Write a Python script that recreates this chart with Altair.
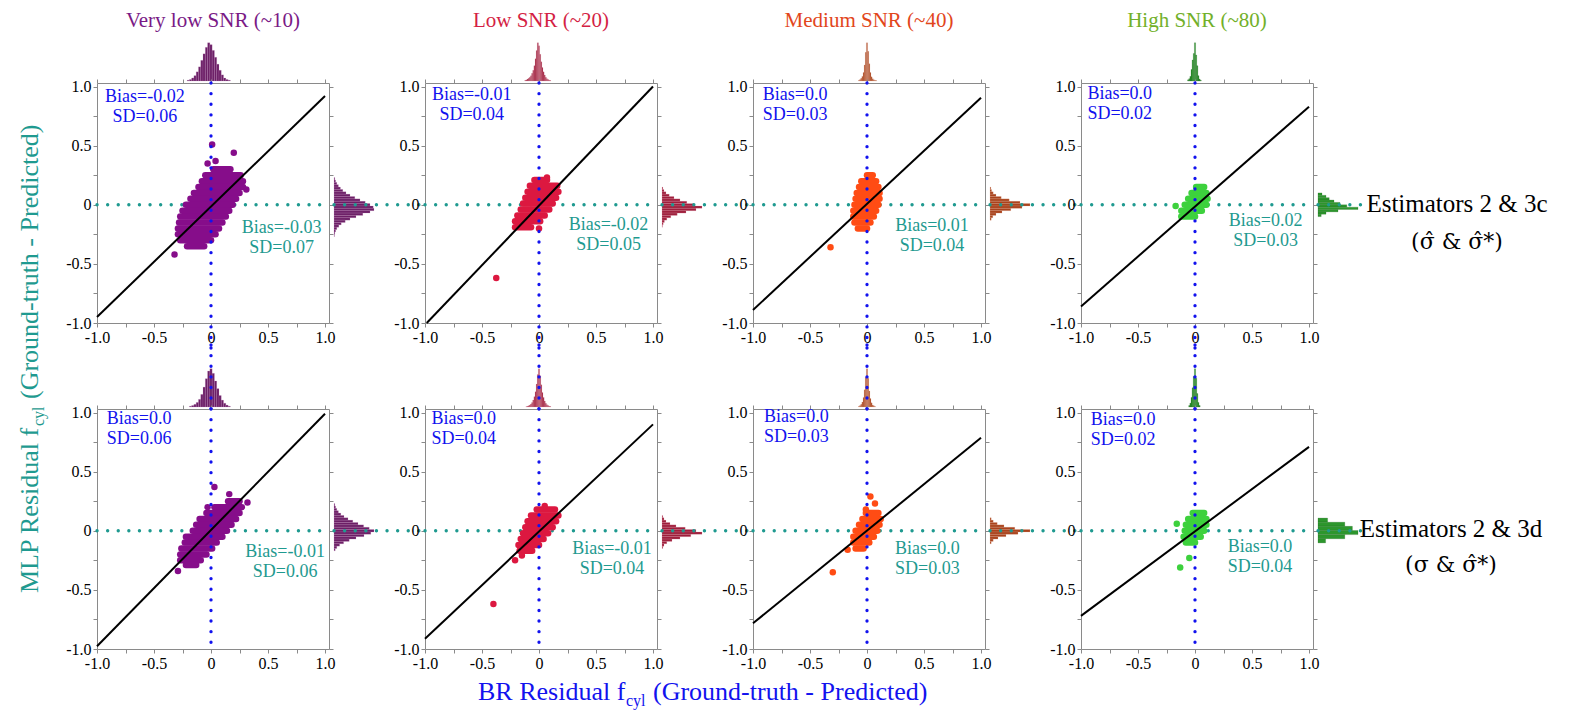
import altair as alt
import pandas as pd

FONT = "Liberation Serif"
TEAL = "#1f9a90"
BLUE = "#1212ee"

# ---------------- layout constants ----------------
W, H, TH, RW = 232, 240, 44, 46
COLSP, PANEL_GAP, ROWSP, ROW_GAP = 5, 35, 2, 36
XD, YD = [-1, 1.035], [-1, 1.03]
TICKS = [-1, -0.75, -0.5, -0.25, 0, 0.25, 0.5, 0.75, 1]

# ---------------- texts / colours ----------------
col_titles = ["Very low SNR (~10)", "Low SNR (~20)", "Medium SNR (~40)", "High SNR (~80)"]
title_colors = ["#7a1a86", "#d41f45", "#e2461b", "#72b02a"]
point_colors = ["#860d8a", "#dc1840", "#ff4c14", "#3dd13d"]
hist_colors = ["#6c1f66", "#9e1f3c", "#a9431d", "#2d962d"]
hist_edges = ["#c590bf", "#e09cac", "#e4ad96", "#175a17"]
row_label_1 = ["Estimators 2 & 3c", "Estimators 2 & 3d"]
row_label_2 = ["(\u03c3\u0302 & \u03c3\u0302*)", "(\u03c3 & \u03c3\u0302*)"]

# panels order: row0 col0..3, row1 col0..3
blue_text = ["Bias=-0.02\nSD=0.06", "Bias=-0.01\nSD=0.04", "Bias=0.0\nSD=0.03", "Bias=0.0\nSD=0.02",
             "Bias=0.0\nSD=0.06", "Bias=0.0\nSD=0.04", "Bias=0.0\nSD=0.03", "Bias=0.0\nSD=0.02"]
teal_text = ["Bias=-0.03\nSD=0.07", "Bias=-0.02\nSD=0.05", "Bias=0.01\nSD=0.04", "Bias=0.02\nSD=0.03",
             "Bias=-0.01\nSD=0.06", "Bias=-0.01\nSD=0.04", "Bias=0.0\nSD=0.03", "Bias=0.0\nSD=0.04"]

# ---------------- scatter clouds (dense core: per-row x extents) ----------------
cloud_y = [
    [0.30, 0.25, 0.20, 0.15, 0.10, 0.05, 0.00, -0.05, -0.10, -0.15, -0.20, -0.25, -0.30, -0.35],
    [0.21, 0.16, 0.11, 0.06, 0.01, -0.04, -0.09, -0.14, -0.19],
    [0.25, 0.20, 0.15, 0.10, 0.05, 0.00, -0.05, -0.10, -0.15, -0.20],
    [0.15, 0.10, 0.05, 0.00, -0.05, -0.10],
    [0.25, 0.20, 0.15, 0.10, 0.05, 0.00, -0.05, -0.10, -0.15, -0.20, -0.25, -0.29],
    [0.18, 0.13, 0.08, 0.03, -0.02, -0.07, -0.12, -0.17],
    [0.15, 0.10, 0.05, 0.00, -0.05, -0.10, -0.15],
    [0.15, 0.10, 0.05, 0.00, -0.05, -0.10],
]
cloud_xl = [
    [0.02, -0.05, -0.08, -0.11, -0.15, -0.18, -0.22, -0.25, -0.27, -0.28, -0.29, -0.29, -0.27, -0.21],
    [-0.04, -0.08, -0.10, -0.12, -0.14, -0.16, -0.19, -0.21, -0.21],
    [0.00, -0.05, -0.07, -0.09, -0.10, -0.11, -0.12, -0.12, -0.11, -0.08],
    [0.01, -0.03, -0.06, -0.09, -0.12, -0.12],
    [0.15, 0.03, -0.04, -0.10, -0.13, -0.16, -0.20, -0.23, -0.26, -0.27, -0.27, -0.22],
    [-0.02, -0.07, -0.10, -0.12, -0.14, -0.16, -0.18, -0.17],
    [-0.01, -0.04, -0.07, -0.10, -0.12, -0.12, -0.10],
    [-0.02, -0.06, -0.08, -0.09, -0.10, -0.08],
]
cloud_xr = [
    [0.17, 0.26, 0.28, 0.28, 0.25, 0.22, 0.19, 0.16, 0.13, 0.10, 0.07, 0.04, 0.00, -0.06],
    [0.07, 0.16, 0.17, 0.15, 0.12, 0.09, 0.05, 0.01, -0.07],
    [0.05, 0.08, 0.10, 0.11, 0.11, 0.10, 0.08, 0.06, 0.03, 0.00],
    [0.08, 0.10, 0.11, 0.10, 0.06, 0.00],
    [0.25, 0.27, 0.25, 0.22, 0.18, 0.14, 0.10, 0.05, 0.01, -0.04, -0.09, -0.13],
    [0.14, 0.17, 0.15, 0.12, 0.08, 0.04, 0.00, -0.06],
    [0.10, 0.12, 0.11, 0.09, 0.06, 0.02, -0.03],
    [0.08, 0.10, 0.10, 0.08, 0.05, 0.00],
]
# isolated points
out_x = [
    [0.01, -0.03, 0.04, 0.20, 0.31, -0.32],
    [-0.375, 0.00, 0.07],
    [-0.32],
    [-0.17],
    [0.03, 0.16, -0.03, -0.22, -0.29, 0.32],
    [0.05, -0.21, -0.15, -0.40],
    [0.03, 0.07, -0.17, -0.30, -0.01],
    [-0.16, -0.05, -0.13],
]
out_y = [
    [0.51, 0.35, 0.37, 0.44, 0.13, -0.42],
    [-0.62, -0.20, 0.23],
    [-0.36],
    [-0.01],
    [0.37, 0.31, 0.20, -0.05, -0.34, 0.24],
    [0.21, -0.25, -0.21, -0.62],
    [0.29, 0.23, -0.16, -0.35, 0.18],
    [0.06, -0.23, -0.31],
]
# regression line end points
fit_x0 = [-1.0, -0.985, -1.0, -1.0, -1.0, -1.0, -1.0, -1.0]
fit_y0 = [-0.95, -1.0, -0.89, -0.86, -0.977, -0.913, -0.783, -0.72]
fit_x1 = [1.0, 1.0, 1.0, 1.0, 1.0, 1.0, 1.0, 1.0]
fit_y1 = [0.92, 1.0, 0.906, 0.83, 0.99, 0.90, 0.786, 0.71]

# ---------------- marginal histograms ----------------
top_binw = [0.02, 0.01, 0.01, 0.01, 0.02, 0.01, 0.01, 0.01]
top_centers = [
    [-0.20, -0.18, -0.16, -0.14, -0.12, -0.10, -0.08, -0.06, -0.04, -0.02, 0.00, 0.02, 0.04, 0.06, 0.08, 0.10, 0.12, 0.14, 0.16],
    [-0.12, -0.11, -0.10, -0.09, -0.08, -0.07, -0.06, -0.05, -0.04, -0.03, -0.02, -0.01, 0.00, 0.01, 0.02, 0.03, 0.04, 0.05, 0.06, 0.07, 0.08, 0.09, 0.10],
    [-0.07, -0.06, -0.05, -0.04, -0.03, -0.02, -0.01, 0.00, 0.01, 0.02, 0.03, 0.04, 0.05, 0.06, 0.07, 0.08],
    [-0.06, -0.05, -0.04, -0.03, -0.02, -0.01, 0.00, 0.01, 0.02, 0.03, 0.04, 0.05],
    [-0.18, -0.16, -0.14, -0.12, -0.10, -0.08, -0.06, -0.04, -0.02, 0.00, 0.02, 0.04, 0.06, 0.08, 0.10, 0.12, 0.14, 0.16],
    [-0.11, -0.10, -0.09, -0.08, -0.07, -0.06, -0.05, -0.04, -0.03, -0.02, -0.01, 0.00, 0.01, 0.02, 0.03, 0.04, 0.05, 0.06, 0.07, 0.08, 0.09, 0.10],
    [-0.07, -0.06, -0.05, -0.04, -0.03, -0.02, -0.01, 0.00, 0.01, 0.02, 0.03, 0.04, 0.05, 0.06, 0.07],
    [-0.05, -0.04, -0.03, -0.02, -0.01, 0.00, 0.01, 0.02, 0.03, 0.04],
]
top_counts = [
    [2, 4, 8, 14, 24, 37, 54, 71, 88, 100, 95, 80, 62, 44, 28, 16, 8, 4, 2],
    [2, 3, 5, 7, 10, 14, 20, 28, 40, 58, 80, 100, 92, 70, 50, 35, 24, 16, 10, 6, 4, 2, 1],
    [2, 4, 7, 12, 22, 42, 75, 100, 78, 45, 22, 11, 6, 3, 2, 1],
    [3, 6, 12, 30, 55, 72, 100, 68, 40, 14, 5, 2],
    [2, 4, 7, 12, 20, 33, 52, 74, 94, 100, 88, 68, 48, 30, 18, 10, 5, 2],
    [1, 2, 3, 5, 8, 12, 18, 27, 40, 60, 85, 100, 82, 58, 38, 25, 16, 10, 6, 4, 2, 1],
    [2, 4, 7, 13, 25, 45, 78, 100, 75, 42, 22, 11, 5, 3, 1],
    [4, 10, 25, 50, 80, 100, 75, 35, 12, 4],
]
right_binw = [0.02, 0.02, 0.02, 0.02, 0.02, 0.02, 0.02, 0.035]
right_centers = [
    [0.22, 0.20, 0.18, 0.16, 0.14, 0.12, 0.10, 0.08, 0.06, 0.04, 0.02, 0.00, -0.02, -0.04, -0.06, -0.08, -0.10, -0.12, -0.14, -0.16, -0.18, -0.20, -0.22, -0.24, -0.26],
    [0.14, 0.12, 0.10, 0.08, 0.06, 0.04, 0.02, 0.00, -0.02, -0.04, -0.06, -0.08, -0.10, -0.12, -0.14, -0.16, -0.18],
    [0.14, 0.12, 0.10, 0.08, 0.06, 0.04, 0.02, 0.00, -0.02, -0.04, -0.06, -0.08, -0.10, -0.12],
    [0.09, 0.07, 0.05, 0.03, 0.01, -0.01, -0.03, -0.05, -0.07, -0.09],
    [0.22, 0.20, 0.18, 0.16, 0.14, 0.12, 0.10, 0.08, 0.06, 0.04, 0.02, 0.00, -0.02, -0.04, -0.06, -0.08, -0.10, -0.12, -0.14, -0.16],
    [0.12, 0.10, 0.08, 0.06, 0.04, 0.02, 0.00, -0.02, -0.04, -0.06, -0.08, -0.10, -0.12, -0.14],
    [0.10, 0.08, 0.06, 0.04, 0.02, 0.00, -0.02, -0.04, -0.06, -0.08, -0.10],
    [0.09, 0.055, 0.02, -0.015, -0.05, -0.085],
]
right_counts = [
    [2, 4, 7, 11, 16, 22, 30, 40, 52, 65, 78, 90, 98, 100, 90, 72, 55, 40, 28, 18, 12, 7, 4, 2, 1],
    [2, 5, 10, 18, 30, 45, 62, 80, 100, 85, 60, 38, 22, 12, 6, 3, 1],
    [2, 4, 8, 15, 28, 48, 75, 100, 80, 52, 30, 15, 7, 3],
    [10, 20, 28, 40, 55, 72, 100, 50, 20, 8],
    [2, 4, 7, 11, 17, 25, 35, 47, 60, 74, 88, 100, 92, 75, 55, 38, 24, 14, 7, 3],
    [2, 5, 10, 20, 35, 58, 85, 100, 72, 45, 25, 12, 5, 2],
    [3, 8, 18, 35, 62, 100, 70, 40, 20, 8, 3],
    [24, 67, 86, 100, 67, 19],
]

# annotation anchor points (data coordinates of each text block's first line)
blue_pos = [(-0.58, 0.90), (-0.59, 0.92), (-0.63, 0.92), (-0.66, 0.93),
            (-0.63, 0.935), (-0.66, 0.94), (-0.62, 0.95), (-0.63, 0.93)]
teal_pos = [(0.62, -0.205), (0.61, -0.18), (0.57, -0.19), (0.62, -0.15),
            (0.65, -0.19), (0.64, -0.16), (0.53, -0.16), (0.57, -0.15)]

# ---------------- styles ----------------
DOT = dict(strokeWidth=3.3, strokeDash=[0.1, 10.5], strokeCap="round")
LABEL_EXPR = ("datum.value == 0 ? '0' : (abs(datum.value * 2) % 1 == 0 ? "
              "replace(format(datum.value, '.1f'), '\u2212', '-') : '')")
AX = dict(tickSize=4, tickColor="#8a8a8a", domainColor="#8a8a8a", labelFont=FONT,
          labelFontSize=16, labelColor="black", grid=False, title=None, labelPadding=2,
          labelOverlap=False, labelFlush=False)
AXN = dict(tickSize=4, tickColor="#8a8a8a", domainColor="#8a8a8a", labels=False,
           grid=False, title=None)


def xs():
    return alt.Scale(domain=XD, nice=False, zero=False)


def ys():
    return alt.Scale(domain=YD, nice=False, zero=False)


ZERO = pd.DataFrame({"z": [0.0]})


def blank(w, h):
    return alt.Chart(ZERO).mark_point(opacity=0).encode(
        x=alt.value(0), y=alt.value(0)).properties(width=w, height=h)


def scatter(k, row, col):
    cloud = pd.DataFrame({"y": cloud_y[k], "xl": cloud_xl[k], "xr": cloud_xr[k]})
    outl = pd.DataFrame({"x": out_x[k], "y": out_y[k]})
    fit = pd.DataFrame({"x": [fit_x0[k], fit_x1[k]], "y": [fit_y0[k], fit_y1[k]]})
    ab = pd.DataFrame({"x": [blue_pos[k][0]], "y": [blue_pos[k][1] + 0.085], "t": [blue_text[k]]})
    at = pd.DataFrame({"x": [teal_pos[k][0]], "y": [teal_pos[k][1] + 0.085], "t": [teal_text[k]]})

    teal = alt.Chart(ZERO).mark_rule(color=TEAL, **DOT).encode(
        y=alt.Y("z:Q", scale=ys(), axis=None), x=alt.value(0), x2=alt.value(W))
    cl = alt.Chart(cloud).mark_rule(color=point_colors[col], strokeWidth=6.5, strokeCap="round").encode(
        x=alt.X("xl:Q", scale=xs(), axis=None), x2="xr:Q",
        y=alt.Y("y:Q", scale=ys(), axis=None))
    pts = alt.Chart(outl).mark_circle(size=42, opacity=1, color=point_colors[col]).encode(
        x=alt.X("x:Q", scale=xs(), axis=alt.Axis(orient="bottom", values=TICKS, labelExpr=LABEL_EXPR, **AX)),
        y=alt.Y("y:Q", scale=ys(), axis=alt.Axis(orient="left", values=TICKS, labelExpr=LABEL_EXPR, **AX)))
    ln = alt.Chart(fit).mark_line(color="black", strokeWidth=2).encode(
        x=alt.X("x:Q", scale=xs(), axis=alt.Axis(orient="top", values=TICKS, **AXN)),
        y=alt.Y("y:Q", scale=ys(), axis=alt.Axis(orient="right", values=TICKS, **AXN)))
    blue = alt.Chart(ZERO).mark_rule(color=BLUE, **DOT).encode(
        x=alt.X("z:Q", scale=xs(), axis=None), y=alt.value(0),
        y2=alt.value(H + 28 if row == 0 else H))
    tb = alt.Chart(ab).mark_text(font=FONT, fontSize=18, lineHeight=20, align="center",
                                 baseline="top", color=BLUE, lineBreak="\n").encode(
        x=alt.X("x:Q", scale=xs(), axis=None), y=alt.Y("y:Q", scale=ys(), axis=None), text="t:N")
    tt = alt.Chart(at).mark_text(font=FONT, fontSize=18, lineHeight=20, align="center",
                                 baseline="top", color=TEAL, lineBreak="\n").encode(
        x=alt.X("x:Q", scale=xs(), axis=None), y=alt.Y("y:Q", scale=ys(), axis=None), text="t:N")
    layers = [teal, cl, pts, ln, blue, tb, tt]

    if row == 0 and col == 0:
        base = dict(font=FONT, angle=270, align="left", baseline="alphabetic", color=TEAL)
        layers += [
            alt.Chart(ZERO).mark_text(fontSize=26, **base).encode(
                x=alt.value(-59), y=alt.value(510), text=alt.value("MLP Residual f")),
            alt.Chart(ZERO).mark_text(fontSize=16, **base).encode(
                x=alt.value(-53), y=alt.value(343), text=alt.value("cyl")),
            alt.Chart(ZERO).mark_text(fontSize=26, **base).encode(
                x=alt.value(-59), y=alt.value(316), text=alt.value("(Ground-truth - Predicted)")),
        ]
    if row == 1 and col == 0:
        base = dict(font=FONT, align="left", baseline="alphabetic", color=BLUE)
        layers += [
            alt.Chart(ZERO).mark_text(fontSize=26, **base).encode(
                x=alt.value(381), y=alt.value(291), text=alt.value("BR Residual f")),
            alt.Chart(ZERO).mark_text(fontSize=16, **base).encode(
                x=alt.value(529), y=alt.value(297), text=alt.value("cyl")),
            alt.Chart(ZERO).mark_text(fontSize=26, **base).encode(
                x=alt.value(556), y=alt.value(291), text=alt.value("(Ground-truth - Predicted)")),
        ]
    return alt.layer(*layers).resolve_axis(x="independent", y="independent").properties(width=W, height=H)


def top_hist(k, row, col):
    df = pd.DataFrame({"c": top_centers[k], "n": top_counts[k]})
    df["lo"] = df["c"] - top_binw[k] / 2
    df["hi"] = df["c"] + top_binw[k] / 2
    df["base"] = 0
    bars = alt.Chart(df).mark_bar(color=hist_colors[col], stroke=hist_edges[col],
                                  strokeWidth=0.3, strokeOpacity=0.7).encode(
        x=alt.X("lo:Q", scale=xs(), axis=None), x2="hi:Q",
        y=alt.Y("n:Q", scale=alt.Scale(domain=[0, 115]), axis=None), y2="base:Q")
    layers = [bars]
    if row == 1:
        layers.append(alt.Chart(ZERO).mark_rule(color=BLUE, **DOT).encode(
            x=alt.X("z:Q", scale=xs(), axis=None), y=alt.value(-18), y2=alt.value(TH + 2)))
    ch = alt.layer(*layers).properties(width=W, height=TH)
    if row == 0:
        ch = ch.properties(title=alt.TitleParams(col_titles[col], color=title_colors[col], font=FONT,
                                                 fontSize=21, fontWeight="normal", anchor="middle",
                                                 offset=6))
    return ch


def right_hist(k, row, col):
    df = pd.DataFrame({"c": right_centers[k], "n": right_counts[k]})
    df["lo"] = df["c"] - right_binw[k] / 2
    df["hi"] = df["c"] + right_binw[k] / 2
    df["base"] = 0
    bars = alt.Chart(df).mark_bar(color=hist_colors[col], stroke=hist_edges[col],
                                  strokeWidth=0.3, strokeOpacity=0.7).encode(
        y=alt.Y("lo:Q", scale=ys(), axis=None), y2="hi:Q",
        x=alt.X("n:Q", scale=alt.Scale(domain=[0, 115]), axis=None), x2="base:Q")
    teal = alt.Chart(ZERO).mark_rule(color=TEAL, **DOT).encode(
        y=alt.Y("z:Q", scale=ys(), axis=None), x=alt.value(0),
        x2=alt.value(RW + 2 * COLSP + PANEL_GAP if col < 3 else RW))
    layers = [bars, teal]
    if col == 3:
        cx = 139 if row == 0 else 133
        layers += [
            alt.Chart(ZERO).mark_text(font=FONT, fontSize=25, align="center", baseline="middle",
                                      color="black").encode(
                x=alt.value(cx), y=alt.value(121 if row == 0 else 120), text=alt.value(row_label_1[row])),
            alt.Chart(ZERO).mark_text(font="DejaVu Serif", fontSize=22, align="center", baseline="middle",
                                      color="black").encode(
                x=alt.value(cx), y=alt.value(159 if row == 0 else 156), text=alt.value(row_label_2[row])),
        ]
    return alt.layer(*layers).properties(width=RW, height=H)


# flat grid: columns = [scatter, right-hist, gap] x 4 (no trailing gap) -> 11 columns
cells = []
for r in range(2):
    for c in range(4):
        k = r * 4 + c
        cells.append(top_hist(k, r, c))
        cells.append(blank(1, 1))
        if c < 3:
            cells.append(blank(PANEL_GAP, 1))
    for c in range(4):
        k = r * 4 + c
        cells.append(scatter(k, r, c))
        cells.append(right_hist(k, r, c))
        if c < 3:
            cells.append(blank(1, 1))
    if r == 0:
        cells.append(blank(1, ROW_GAP))
        for _ in range(10):
            cells.append(blank(1, 1))

chart = alt.concat(*cells, columns=11, spacing={"row": ROWSP, "column": COLSP},
                   bounds="flush", align="each").properties(
    padding={"left": 16, "top": 10, "right": 4, "bottom": 2}
).configure(background="white").configure_view(stroke=None)

chart.save("out.html", embed_options={"renderer": "svg", "actions": False})
